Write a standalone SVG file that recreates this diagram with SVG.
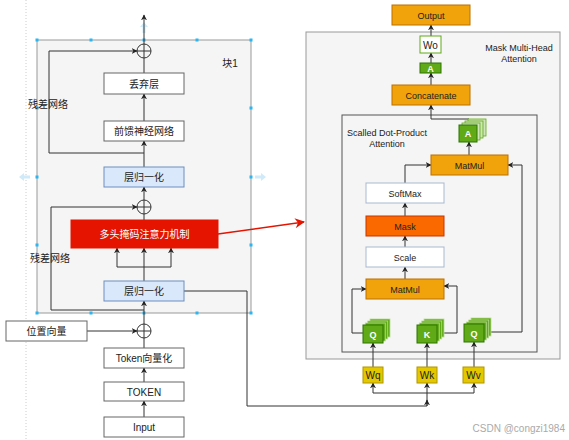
<svg xmlns="http://www.w3.org/2000/svg" width="569" height="440" viewBox="0 0 569 440">
<style>
.bx{fill:#fff;stroke:#666;stroke-width:1}
.ln{fill:#dae8fc;stroke:#6c8ebf;stroke-width:1}
.or{fill:#f0a30a;stroke:#bd7000;stroke-width:1}
.wt{fill:#fff;stroke:#a9b9d0;stroke-width:1}
.yl{fill:#e3c800;stroke:#b09500;stroke-width:1}
.gr{fill:#60a917;stroke:#2d7600;stroke-width:1}
.grb{fill:#60a917;stroke:#b8dc94;stroke-width:0.8}
.grl{fill:#cfe6b8;stroke:#60a917;stroke-width:0.8}
.c{stroke:#333;stroke-width:1;fill:none}
.cjk{font-family:"Liberation Sans","Noto Sans CJK SC",sans-serif;font-size:10px;fill:#222;text-anchor:middle}
.en{font-family:"Liberation Sans",Arial,sans-serif;font-size:9px;fill:#222;text-anchor:middle}
.enw{font-family:"Liberation Sans",Arial,sans-serif;font-size:9px;fill:#fff;font-weight:bold;text-anchor:middle}
.h{fill:#29b6f2}
.ha{fill:#cfeaf8}
</style>
<defs>
<marker id="a" viewBox="0 0 10 10" refX="9" refY="5" markerWidth="6" markerHeight="6" orient="auto" markerUnits="userSpaceOnUse">
<path d="M0,0 L10,5 L0,10 L3,5 z" fill="#222"/>
</marker>
<marker id="ar" viewBox="0 0 10 10" refX="9" refY="5" markerWidth="12" markerHeight="10" orient="auto" markerUnits="userSpaceOnUse">
<path d="M0,0 L10,5 L0,10 L3,5 z" fill="#e51400"/>
</marker>
<g id="stk">
<rect x="7" y="-6" width="20" height="18" class="grb"/>
<rect x="4.7" y="-4" width="20" height="18" class="grb"/>
<rect x="2.3" y="-2" width="20" height="18" class="grb"/>
<rect x="0" y="0" width="20" height="18" class="gr"/>
</g>
</defs>
<rect width="569" height="440" fill="#fff"/>
<line x1="26" y1="0" x2="26" y2="440" stroke="#ccc" stroke-dasharray="1,2"/>

<g id="block1">
<rect x="37" y="40" width="214" height="273" fill="#f5f5f5" stroke="#999"/>
<text x="230" y="67" class="cjk">块1</text>
</g>
<g id="handles">
<rect x="35.5" y="38.5" width="3" height="3" class="h"/><rect x="89.5" y="38.5" width="3" height="3" class="h"/><rect x="142.5" y="38.5" width="3" height="3" class="h"/><rect x="195.5" y="38.5" width="3" height="3" class="h"/><rect x="249.5" y="38.5" width="3" height="3" class="h"/>
<rect x="35.5" y="311.5" width="3" height="3" class="h"/><rect x="89.5" y="311.5" width="3" height="3" class="h"/><rect x="142.5" y="311.5" width="3" height="3" class="h"/><rect x="195.5" y="311.5" width="3" height="3" class="h"/><rect x="249.5" y="311.5" width="3" height="3" class="h"/>
<rect x="35.5" y="106.5" width="3" height="3" class="h"/><rect x="35.5" y="175.5" width="3" height="3" class="h"/><rect x="35.5" y="243.5" width="3" height="3" class="h"/>
<rect x="249.5" y="106.5" width="3" height="3" class="h"/><rect x="249.5" y="175.5" width="3" height="3" class="h"/><rect x="249.5" y="243.5" width="3" height="3" class="h"/>
<path d="M19,177 L24,173 L24,175.5 L30,175.5 L30,178.5 L24,178.5 L24,181 Z" class="ha"/>
<path d="M266,177 L261,173 L261,175.5 L255,175.5 L255,178.5 L261,178.5 L261,181 Z" class="ha"/>
<path d="M144,22 L140,27 L142.5,27 L142.5,33 L145.5,33 L145.5,27 L148,27 Z" class="ha"/>
</g>

<g id="outer-mha">
<rect x="306" y="32" width="254" height="327" fill="#f5f5f5" stroke="#999"/>
<text x="519" y="51" class="en">Mask Multi-Head</text>
<text x="519" y="62" class="en">Attention</text>
</g>
<g id="inner-sdpa">
<rect x="342" y="115" width="195" height="237" fill="#f5f5f5" stroke="#555"/>
<text x="387" y="136" class="en">Scalled Dot-Product</text>
<text x="387" y="147" class="en">Attention</text>
</g>

<g id="connectors">
<line x1="144" y1="44" x2="144" y2="15" class="c" marker-end="url(#a)"/>
<line x1="144" y1="73" x2="144" y2="58" class="c"/>
<line x1="144" y1="121" x2="144" y2="94" class="c" marker-end="url(#a)"/>
<line x1="144" y1="167" x2="144" y2="141" class="c" marker-end="url(#a)"/>
<path d="M144,153 H49 V51 H137" class="c" marker-end="url(#a)"/>
<line x1="144" y1="200" x2="144" y2="187" class="c" marker-end="url(#a)"/>
<line x1="144" y1="220" x2="144" y2="214" class="c"/>
<path d="M144,281 V267" class="c"/>
<path d="M117,267 H171" class="c"/>
<line x1="117" y1="267" x2="117" y2="248" class="c" marker-end="url(#a)"/>
<line x1="144" y1="267" x2="144" y2="248" class="c" marker-end="url(#a)"/>
<line x1="171" y1="267" x2="171" y2="248" class="c" marker-end="url(#a)"/>
<path d="M144,310 H51 V207 H137" class="c" marker-end="url(#a)"/>
<line x1="144" y1="324" x2="144" y2="301" class="c" marker-end="url(#a)"/>
<line x1="87" y1="331" x2="137" y2="331" class="c" marker-end="url(#a)"/>
<line x1="144" y1="348" x2="144" y2="338" class="c"/>
<line x1="144" y1="382" x2="144" y2="368" class="c" marker-end="url(#a)"/>
<line x1="144" y1="417" x2="144" y2="401" class="c" marker-end="url(#a)"/>
<path d="M184,291 H247 V406 H427 V393" class="c" stroke="#555"/>
<line x1="427" y1="406" x2="427" y2="400" class="c" marker-end="url(#a)"/>
<path d="M373,393 H474" class="c"/>
<line x1="373" y1="393" x2="373" y2="383" class="c" marker-end="url(#a)"/>
<line x1="427" y1="393" x2="427" y2="383" class="c" marker-end="url(#a)"/>
<line x1="474" y1="393" x2="474" y2="383" class="c" marker-end="url(#a)"/>
<line x1="373" y1="367" x2="373" y2="343" class="c" marker-end="url(#a)"/>
<line x1="427" y1="367" x2="427" y2="343" class="c" marker-end="url(#a)"/>
<line x1="474" y1="367" x2="474" y2="342" class="c" marker-end="url(#a)"/>
<path d="M363,333 H352 V289 H366" class="c" marker-end="url(#a)"/>
<path d="M437,333 H457 V286 H444" class="c" marker-end="url(#a)"/>
<path d="M484,332 H522 V165 H508" class="c" marker-end="url(#a)"/>
<line x1="405" y1="279" x2="405" y2="267" class="c" marker-end="url(#a)"/>
<line x1="405" y1="247" x2="405" y2="236" class="c" marker-end="url(#a)"/>
<line x1="405" y1="216" x2="405" y2="203" class="c" marker-end="url(#a)"/>
<path d="M405,183 V165 H431" class="c" marker-end="url(#a)"/>
<line x1="469" y1="155" x2="469" y2="142" class="c" marker-end="url(#a)"/>
<path d="M469,125 V119 H431 V105" class="c" marker-end="url(#a)"/>
<line x1="431" y1="85" x2="431" y2="73" class="c" marker-end="url(#a)"/>
<line x1="431" y1="63" x2="431" y2="53" class="c" marker-end="url(#a)"/>
<line x1="431" y1="36" x2="431" y2="25" class="c" marker-end="url(#a)"/>
<line x1="218" y1="234" x2="304" y2="222" stroke="#e51400" stroke-width="1.6" marker-end="url(#ar)"/>
</g>

<g id="sum-top"><circle cx="144" cy="51" r="7" fill="none" stroke="#333"/><path d="M137,51 H151 M144,44 V58" stroke="#333"/></g>
<g id="dropout"><rect x="104" y="73" width="80" height="21" class="bx"/><text x="144" y="87.5" class="cjk">丢弃层</text></g>
<g id="ffn"><rect x="104" y="121" width="80" height="20" class="bx"/><text x="144" y="135" class="cjk">前馈神经网络</text></g>
<g id="norm2"><rect x="104" y="167" width="80" height="20" class="ln"/><text x="144" y="181" class="cjk">层归一化</text></g>
<g id="sum-mid"><circle cx="144" cy="207" r="7" fill="none" stroke="#333"/><path d="M137,207 H151 M144,200 V214" stroke="#333"/></g>
<g id="mha"><rect x="71" y="220" width="147" height="28" fill="#e51400" stroke="#e51400"/><text x="144.5" y="238" class="cjk" style="fill:#fff">多头掩码注意力机制</text></g>
<g id="norm1"><rect x="104" y="281" width="80" height="20" class="ln"/><text x="144" y="295" class="cjk">层归一化</text></g>
<g id="res-label1"><text x="48" y="108" class="cjk">残差网络</text></g>
<g id="res-label2"><text x="50" y="262" class="cjk">残差网络</text></g>
<g id="pos"><rect x="6" y="321" width="81" height="20" class="bx"/><text x="46.5" y="335" class="cjk">位置向量</text></g>
<g id="sum-bot"><circle cx="144" cy="331" r="7" fill="none" stroke="#333"/><path d="M137,331 H151 M144,324 V338" stroke="#333"/></g>
<g id="tokvec"><rect x="104" y="348" width="80" height="20" class="bx"/><text x="144" y="362" class="cjk">Token向量化</text></g>
<g id="token"><rect x="104" y="382" width="80" height="19" class="bx"/><text x="144" y="395.5" class="cjk">TOKEN</text></g>
<g id="input"><rect x="104" y="417" width="80" height="20" class="bx"/><text x="144" y="431" class="cjk">Input</text></g>

<g id="output"><rect x="392" y="5" width="78" height="20" class="or"/><text x="431" y="18.5" class="en">Output</text></g>
<g id="wo"><rect x="420" y="36" width="21" height="17" fill="#fff" stroke="#60a917"/><text x="430.5" y="48.5" class="en" style="font-size:10px">Wo</text></g>
<g id="a-small"><rect x="420" y="63" width="21" height="10" class="gr"/><text x="430.5" y="71.5" class="enw">A</text></g>
<g id="concat"><rect x="392" y="85" width="78" height="20" class="or"/><text x="431" y="98.5" class="en">Concatenate</text></g>
<g id="a-stack">
<rect x="468" y="119" width="18" height="17" class="grl"/>
<rect x="465" y="121" width="18" height="17" class="grl"/>
<rect x="462" y="123" width="18" height="17" class="grl"/>
<rect x="459" y="125" width="18" height="17" class="gr"/>
<text x="468" y="137" class="enw">A</text>
</g>
<g id="matmul2"><rect x="431" y="155" width="77" height="20" class="or"/><text x="469.5" y="168.5" class="en">MatMul</text></g>
<g id="softmax"><rect x="366" y="183" width="78" height="20" class="wt"/><text x="405" y="196.5" class="en">SoftMax</text></g>
<g id="mask"><rect x="366" y="216" width="78" height="20" fill="#fa6800" stroke="#c73500"/><text x="405" y="229.5" class="en">Mask</text></g>
<g id="scale"><rect x="366" y="247" width="78" height="20" class="wt"/><text x="405" y="260.5" class="en">Scale</text></g>
<g id="matmul1"><rect x="366" y="279" width="78" height="20" class="or"/><text x="405" y="292.5" class="en">MatMul</text></g>
<g id="q-stack"><use href="#stk" x="363" y="325"/><text x="373" y="337.5" class="enw">Q</text></g>
<g id="k-stack"><use href="#stk" x="417" y="325"/><text x="427" y="337.5" class="enw">K</text></g>
<g id="v-stack"><use href="#stk" x="464" y="324"/><text x="474" y="336.5" class="enw">Q</text></g>
<g id="wq"><rect x="363" y="367" width="20" height="16" class="yl"/><text x="373" y="378.5" class="en" style="font-size:10px">Wq</text></g>
<g id="wk"><rect x="417" y="367" width="20" height="16" class="yl"/><text x="427" y="378.5" class="en" style="font-size:10px">Wk</text></g>
<g id="wv"><rect x="463" y="367" width="21" height="16" class="yl"/><text x="473.5" y="378.5" class="en" style="font-size:10px">Wv</text></g>

<text x="565" y="432" style="font-family:'Liberation Sans',Arial,sans-serif;font-size:10px;fill:#aaa;text-anchor:end">CSDN @congzi1984</text>
</svg>
